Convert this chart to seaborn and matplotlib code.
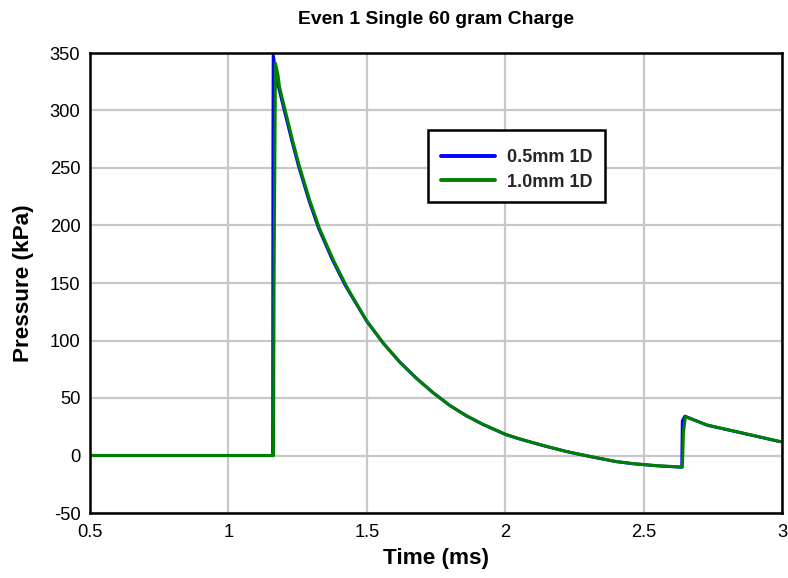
import matplotlib
matplotlib.use("Agg")
import matplotlib.pyplot as plt
from matplotlib.patches import Rectangle
import seaborn as sns
import pandas as pd

# ---- data ----
series_names = ["0.5mm 1D", "1.0mm 1D"]
series_colors = ["#0000FF", "#008000"]

t_blue = [0.5, 1.160, 1.161, 1.162, 1.178, 1.182, 1.2025, 1.230, 1.253, 1.292, 1.326, 1.376,
          1.422, 1.438, 1.499, 1.56, 1.62, 1.68, 1.74, 1.80, 1.86, 1.92, 2.00, 2.05, 2.10,
          2.15, 2.22, 2.27, 2.34, 2.40, 2.46, 2.55, 2.638, 2.640, 2.649,
          2.73, 2.85, 2.99, 3.0]
p_blue = [0, 0, 265, 348, 322, 319.5, 299.5, 273, 252, 221, 197.5, 170,
          148, 141.5, 117, 97.5, 81, 67, 54.5, 43.5, 34.5, 27, 18.4, 14.5, 11.1,
          7.8, 3.5, 0.9, -2.5, -5.3, -7.1, -9.0, -10.2, 30, 34.2,
          26.3, 19.8, 12.2, 11.9]

t_green = [0.5, 1.163, 1.165, 1.170, 1.179, 1.185, 1.2055, 1.233, 1.256, 1.295, 1.329, 1.379,
           1.425, 1.44, 1.50, 1.56, 1.62, 1.68, 1.74, 1.80, 1.86, 1.92, 2.00, 2.05, 2.10,
           2.15, 2.22, 2.27, 2.34, 2.40, 2.46, 2.55, 2.640, 2.644, 2.651,
           2.73, 2.85, 2.99, 3.0]
p_green = [0, 0, 155, 341, 331, 320, 300, 273, 252, 221, 197.5, 170,
           148, 141.5, 117, 97.5, 81, 67, 54.5, 43.5, 34.5, 27, 18.5, 14.6, 11.2,
           7.9, 3.6, 1.0, -2.4, -5.2, -7.0, -8.9, -10.0, 20, 33.7,
           26.5, 20, 12.3, 12]

x_ticks = [0.5, 1, 1.5, 2, 2.5, 3]
x_tick_labels = ["0.5", "1", "1.5", "2", "2.5", "3"]
y_ticks = [-50, 0, 50, 100, 150, 200, 250, 300, 350]

title = "Even 1 Single 60 gram Charge"
x_label = "Time (ms)"
y_label = "Pressure (kPa)"

df = pd.concat([
    pd.DataFrame({"Time": t_blue, "Pressure": p_blue, "Series": series_names[0]}),
    pd.DataFrame({"Time": t_green, "Pressure": p_green, "Series": series_names[1]}),
], ignore_index=True)

sns.set_theme(style="white")
plt.rcParams["font.family"] = ["Liberation Sans", "DejaVu Sans"]
plt.rcParams["axes.unicode_minus"] = False

fig = plt.figure(figsize=(7.88, 5.78), dpi=100)
ax = fig.add_axes([90 / 788, 1 - 513 / 578, 692 / 788, 460 / 578])

sns.lineplot(data=df, x="Time", y="Pressure", hue="Series",
             palette=dict(zip(series_names, series_colors)),
             hue_order=series_names, estimator=None, sort=False,
             linewidth=2.2, ax=ax)

ax.set_xlim(0.5, 3)
ax.set_ylim(-50, 350)
ax.set_xticks(x_ticks)
ax.set_xticklabels(x_tick_labels)
ax.set_yticks(y_ticks)
ax.grid(True, color="#c8c8c8", linewidth=1.6)
ax.set_axisbelow(True)
ax.tick_params(axis="both", length=0, labelsize=13.2, colors="black")
ax.tick_params(axis="x", pad=8)
ax.tick_params(axis="y", pad=7)
for s in ax.spines.values():
    s.set_color("black")
    s.set_linewidth(1.8)

ax.set_xlabel(x_label, fontsize=16.2, fontweight="bold", labelpad=5, color="black")
ax.set_ylabel(y_label, fontsize=16.2, fontweight="bold", labelpad=11, color="black")
ax.set_title(title, fontsize=13.9, fontweight="bold", pad=21, color="black")

# legend frame (square, black) and legend content
ax.add_patch(Rectangle((0.4884, 0.6761), 0.7442 - 0.4884, 0.8326 - 0.6761,
                       transform=ax.transAxes, facecolor="white", edgecolor="black",
                       linewidth=1.8, zorder=5))
handles, labels = ax.get_legend_handles_labels()
leg = ax.legend(handles, labels, loc="center left", bbox_to_anchor=(0.5072, 0.7457),
                borderaxespad=0, borderpad=0, frameon=False, handlelength=3.0,
                handletextpad=0.67, prop={"weight": "bold", "size": 13},
                labelspacing=0.42)
leg.set_zorder(6)
for line in leg.get_lines():
    line.set_linewidth(2.8)

fig.savefig("out.png", dpi=100)
